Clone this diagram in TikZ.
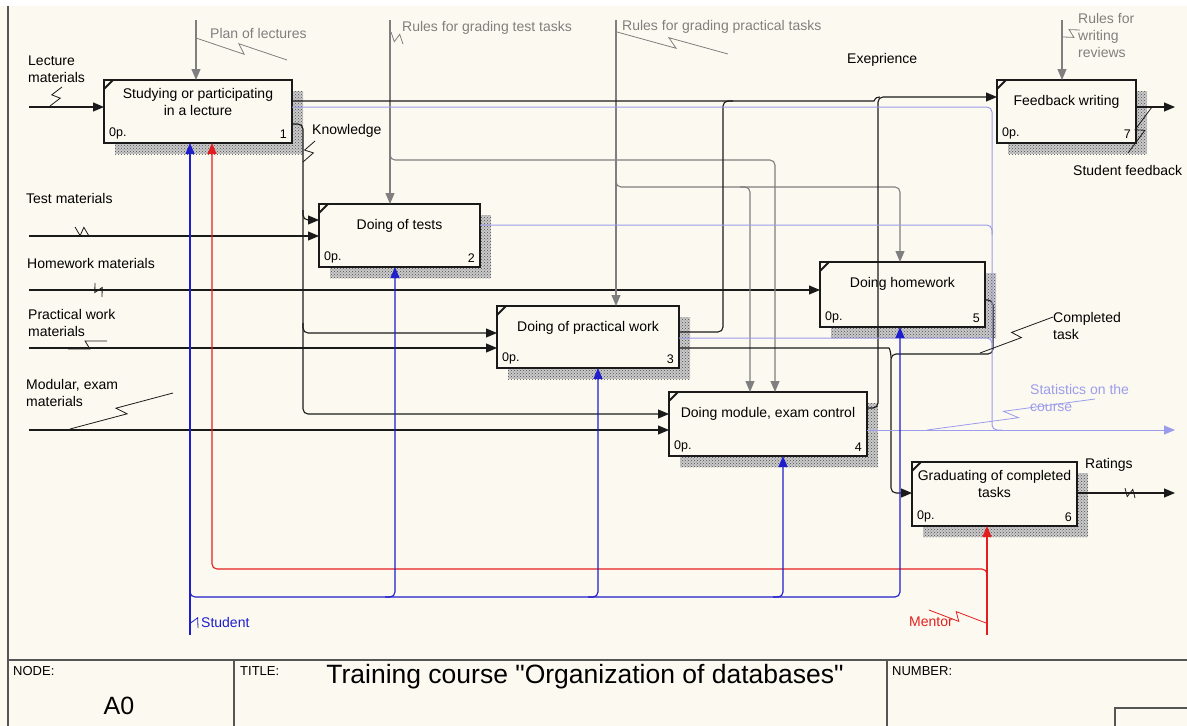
\documentclass[tikz,border=0pt]{standalone}
\usepackage{fontspec}
\setmainfont{Liberation Sans}[Ligatures=TeXOff]
\usetikzlibrary{arrows.meta,patterns,calc}

\definecolor{paper}{HTML}{FCFAF0}
\definecolor{ink}{HTML}{1A1A1A}
\definecolor{ctrl}{HTML}{7F7F7F}
\definecolor{mech}{HTML}{1E1ECC}
\definecolor{stat}{HTML}{9C9CEC}
\definecolor{ment}{HTML}{E41E1E}
\definecolor{frame}{HTML}{555555}
\definecolor{hatch}{HTML}{CACACA}

\newcommand\bodyfont{\fontsize{14}{17}\selectfont}
\newcommand\tagfont{\fontsize{12.5}{14}\selectfont}

\tikzset{
  idef/.style={draw=ink, line width=2.5pt, fill=paper, inner sep=0pt, outer sep=0pt,
    path picture={\draw[ink, line width=1.8pt]
      ([yshift=-9pt]path picture bounding box.north west) --
      ([xshift=9pt]path picture bounding box.north west);}},
  shadebase/.style={fill=hatch},
  shade/.style={pattern=crosshatch dots, pattern color=gray!60!black},
  conn/.style={line width=1.1pt, rounded corners=5pt},
  tip/.style={-{Triangle[length=11pt,width=9pt]}},
  flow/.style={conn, ink},
  ctl/.style={conn, ctrl},
  mec/.style={conn, mech},
  mnt/.style={conn, ment},
  sts/.style={conn, stat, line width=1pt},
  lbl/.style={font=\bodyfont, anchor=west, inner sep=0pt, align=left},
  squigline/.style={line width=0.8pt},
}

% activity box: name, x1, y1, x2, y2, title, number
\newcommand\idefbox[7]{%
  \fill[shadebase] (#2+11,#3+11) rectangle (#4+11,#5+11);
  \fill[shade] (#2+11,#3+11) rectangle (#4+11,#5+11);
  \node[idef, minimum width={(#4-#2)*1pt}, minimum height={(#5-#3)*1pt},
    label={[font=\bodyfont, align=center, anchor=center, yshift=-21.5pt]north:#6},
    label={[font=\tagfont, anchor=south west, inner sep=0pt, xshift=5pt, yshift=4pt]south west:0p.},
    label={[font=\tagfont, anchor=south east, inner sep=0pt, xshift=-5pt, yshift=4pt]south east:#7}]
    (#1) at ({(#2+#4)/2},{(#3+#5)/2}) {};
}

% zig-zag tie between an arrow and its label
\newcommand\squig[3][ink]{%
  \draw[squigline, #1] (#2) --
    ($(#2)!0.54!(#3)!4.5pt!-90:(#3)$) --
    ($(#2)!0.46!(#3)!4.5pt!90:(#3)$) -- (#3);
}

\begin{document}
\begin{tikzpicture}[x=1pt,y=-1pt]
\useasboundingbox (0,0) rectangle (1187,726);
\fill[white] (0,0) rectangle (1187,726);
\fill[paper] (0,6) rectangle (1187,726);

% frame and title block
\draw[frame, line width=1.3pt] (8,6) -- (8,726);
\draw[frame, line width=1.3pt] (8,660) -- (1187,660);
\draw[frame, line width=1.3pt] (234,660) -- (234,726);
\draw[frame, line width=1.3pt] (887,660) -- (887,726);
\draw[frame, line width=1.3pt] (1115,726) -- (1115,708) -- (1187,708);
\node[font=\fontsize{13}{15}\selectfont, anchor=north west, inner sep=0pt] (tNode) at (13,666) {NODE:};
\node[font=\fontsize{13}{15}\selectfont, anchor=north west, inner sep=0pt] (tTitle) at (240,666) {TITLE:};
\node[font=\fontsize{13}{15}\selectfont, anchor=north west, inner sep=0pt] (tNumber) at (892,666) {NUMBER:};
\node[font=\fontsize{25}{28}\selectfont, inner sep=0pt] (tA0) at (119,706) {A0};
\node[font=\fontsize{26.5}{30}\selectfont, inner sep=0pt] (tName) at (585,677) {Training course "Organization of databases"};

% activities
\idefbox{b1}{104}{80}{292}{143}{Studying or participating\\in a lecture}{1}
\idefbox{b2}{319}{204}{480}{267}{Doing of tests}{2}
\idefbox{b3}{497}{306}{679}{368}{Doing of practical work}{3}
\idefbox{b4}{669}{392}{867}{456}{Doing module, exam control}{4}
\idefbox{b5}{820}{262}{985}{327}{Doing homework}{5}
\idefbox{b6}{912}{462}{1077}{526}{Graduating of completed\\tasks}{6}
\idefbox{b7}{997}{80}{1136}{143}{Feedback writing}{7}

% open ends of the boundary arrows
\coordinate (srcLecture) at (29,107);
\coordinate (srcTest) at (29,236);
\coordinate (srcHome) at (29,290);
\coordinate (srcPract) at (29,348);
\coordinate (srcExam) at (29,430);
\coordinate (srcPlan) at (196,20);
\coordinate (srcTestRules) at (390,20);
\coordinate (srcPractRules) at (616,20);
\coordinate (srcReview) at (1062,20);
\coordinate (srcStudent) at (190,635);
\coordinate (srcMentor) at (987,635);
\coordinate (outStats) at (1175,430);
\coordinate (outRatings) at (1175,493);
\coordinate (outFeedback) at (1175,107);

% inputs
\draw[flow,tip] (srcLecture) -- (srcLecture -| b1.west);
\draw[flow,tip] (srcTest) -- (srcTest -| b2.west);
\draw[flow,tip] (srcHome) -- (srcHome -| b5.west);
\draw[flow,tip] (srcPract) -- (srcPract -| b3.west);
\draw[flow,tip] (srcExam) -- (srcExam -| b4.west);

% controls
\draw[ctl,tip] (srcPlan) -- (srcPlan |- b1.north);
\draw[ctl,tip] (srcTestRules) -- (srcTestRules |- b2.north);
\draw[ctl,tip] (390,150) -- (390,160) -- (775,160) -- (775,0 |- b4.north);
\draw[ctl,tip] (srcPractRules) -- (srcPractRules |- b3.north);
\draw[ctl,tip] (616,177) -- (616,187) -- (900,187) -- (900,0 |- b5.north);
\draw[ctl,tip] (740,187) -- (750,187) -- (750,0 |- b4.north);
\draw[ctl,tip] (srcReview) -- (srcReview |- b7.north);

% knowledge
\draw[flow,tip] (b1.east |- 0,124) -- (303,124) -- (303,414) -- (b4.west |- 0,414);
\draw[flow,tip] (303,210) -- (303,220) -- (b2.west |- 0,220);
\draw[flow,tip] (303,323) -- (303,333) -- (b3.west |- 0,333);

% experience
\draw[flow] (b1.east |- 0,101) -- (869,101) .. controls (875,101) and (874,97) .. (880,97);
\draw[flow] (b3.east |- 0,332) -- (723,332) -- (723,101) -- (733,101);
\draw[flow,tip] (b4.east |- 0,408) -- (878,408) -- (878,97) -- (b7.west |- 0,97);

% completed task
\draw[flow,tip] (b5.east |- 0,300) -- (993,300) -- (993,354) -- (891,354) -- (891,493) -- (b6.west |- 0,493);
\draw[flow] (b3.east |- 0,348) -- (884,348) .. controls (889,348) and (891,351) .. (891,358);

% statistics
\draw[sts] (b1.east |- 0,107) -- (992,107) -- (992,430) -- (1002,430);
\draw[sts] (b2.east |- 0,225) -- (992,225) -- (992,235);
\draw[sts] (b3.east |- 0,338) -- (992,338) -- (992,348);
\draw[sts,tip] (b4.east |- 0,430) -- (outStats);

% outputs
\draw[flow,tip] (b6.east |- 0,493) -- (outRatings);
\draw[flow,tip] (b7.east |- 0,107) -- (outFeedback);

% mechanisms
\draw[mnt,tip] (987,579) -- (987,569) -- (212,569) -- (212,0 |- b1.south);
\draw[mnt,tip] (srcMentor) -- (srcMentor |- b6.south);
\draw[mec,tip] (srcStudent) -- (srcStudent |- b1.south);
\draw[mec,tip] (190,587) -- (190,597) -- (900,597) -- (900,0 |- b5.south);
\draw[mec,tip] (385,597) -- (395,597) -- (395,0 |- b2.south);
\draw[mec,tip] (588,597) -- (598,597) -- (598,0 |- b3.south);
\draw[mec,tip] (773,597) -- (783,597) -- (783,0 |- b4.south);

% labels
\node[lbl] (lLecture) at (28,69.5) {Lecture\\materials};
\node[lbl] (lTest) at (26,198) {Test materials};
\node[lbl] (lHome) at (27,263) {Homework materials};
\node[lbl] (lPract) at (28,323) {Practical work\\materials};
\node[lbl] (lExam) at (26,392.5) {Modular, exam\\materials};
\node[lbl, ctrl] (lPlan) at (210,33) {Plan of lectures};
\node[lbl, ctrl] (lTestRules) at (402,28) {Rules for grading test tasks};
\node[lbl, ctrl] (lPractRules) at (622,27) {Rules for grading practical tasks};
\node[lbl, ctrl] (lReview) at (1078,35.5) {Rules for\\writing\\reviews};
\node[lbl] (lExp) at (847,60) {Exeprience};
\node[lbl] (lKnow) at (312,131) {Knowledge};
\node[lbl] (lFeedback) at (1073,170) {Student feedback};
\node[lbl] (lDone) at (1053,325.5) {Completed\\task};
\node[lbl, stat] (lStats) at (1030,397.5) {Statistics on the\\course};
\node[lbl] (lRatings) at (1085,465) {Ratings};
\node[lbl, mech] (lStudent) at (201,622) {Student};
\node[lbl, ment] (lMentor) at (909,622) {Mentor};

% label ties
\squig{50,106}{62,87}
\squig{75,227}{89,236}
\squig{95,283}{102,297}
\squig{68,349}{107,341}
\squig{70,429}{173,393}
\squig[ctrl]{196,38}{287,60}
\squig[ctrl]{391,32}{403,44}
\squig[ctrl]{617,32}{728,54}
\squig[ctrl]{1063,37}{1080,30}
\squig{303,162}{315,141}
\squig{1152,107}{1128,153}
\squig{980,353}{1053,317}
\squig[stat]{927,430}{1095,399}
\squig{1125,488}{1135,498}
\squig[mech]{190,613}{198,628}
\squig[ment]{929,610}{986,623}
\end{tikzpicture}
\end{document}
